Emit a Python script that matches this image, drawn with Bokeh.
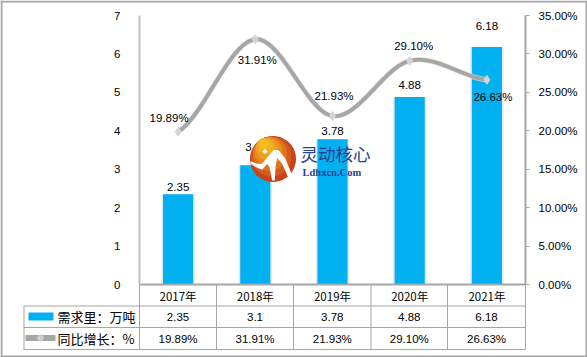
import numpy as np
from bokeh.plotting import figure
from bokeh.embed import file_html
from bokeh.resources import INLINE
from bokeh.core.properties import value
from bokeh.models import ColumnDataSource, LinearAxis, Range1d, PrintfTickFormatter, FixedTicker

years = ["2017年", "2018年", "2019年", "2020年", "2021年"]
demand = [2.35, 3.1, 3.78, 4.88, 6.18]
growth = [19.89, 31.91, 21.93, 29.10, 26.63]
demand_labels = ["2.35", "3.1", "3.78", "4.88", "6.18"]
growth_labels = ["19.89%", "31.91%", "21.93%", "29.10%", "26.63%"]
legend_names = ["需求里：万吨", "同比增长：%"]

W, H = 587, 357
L, R, T, B = 139, 525, 15, 284
GREY = "#a6a6a6"
BLUE = "#00b0f0"
FONT = "Liberation Sans"
CJK = "Noto Sans CJK SC"

p = figure(width=W, height=H, output_backend="svg", toolbar_location=None,
           x_range=years, y_range=Range1d(0, 7),
           min_border_left=L, min_border_right=W - R, min_border_top=T, min_border_bottom=H - B,
           outline_line_color=None, background_fill_color="white", border_fill_color="white")
p.grid.visible = False
p.x_range.range_padding = 0

p.yaxis.ticker = FixedTicker(ticks=list(range(8)))
p.yaxis.axis_line_color = "#bfbfbf"
p.yaxis.axis_line_width = 2
p.yaxis.major_tick_line_color = None
p.yaxis.minor_tick_line_color = None
p.yaxis.major_label_text_font = FONT
p.yaxis.major_label_text_font_size = "11.5px"
p.yaxis.major_label_text_color = "black"
p.yaxis.major_label_standoff = 13

p.extra_y_ranges = {"pct": Range1d(0, 35)}
right = LinearAxis(y_range_name="pct", ticker=FixedTicker(ticks=list(range(0, 36, 5))))
right.formatter = PrintfTickFormatter(format="%.2f%%")
right.axis_line_color = GREY
right.axis_line_width = 2
right.major_tick_line_color = GREY
right.major_tick_in = 0
right.major_tick_out = 4
right.minor_tick_line_color = None
right.major_label_text_font = FONT
right.major_label_text_font_size = "11.5px"
right.major_label_text_color = "black"
right.major_label_standoff = 9
p.add_layout(right, "right")

p.xaxis.axis_line_color = GREY
p.xaxis.axis_line_width = 2
p.xaxis.major_tick_line_color = None
p.xaxis.minor_tick_line_color = None
p.xaxis.major_tick_out = 0
p.xaxis.major_tick_in = 0
p.xaxis.major_label_text_font = CJK
p.xaxis.major_label_text_font_size = "11.5px"
p.xaxis.major_label_text_color = "black"
p.xaxis.major_label_standoff = 3

src = ColumnDataSource(dict(x=years, demand=demand, growth=growth, dl=demand_labels, gl=growth_labels))
p.vbar(x="x", top="demand", width=0.43, source=src, fill_color="#e4e7ee", line_color=None)
p.vbar(x="x", top="demand", width=0.39, source=src, fill_color=BLUE, line_color=None)


def smooth(values):
    n = len(values)
    pts = [values[0]] + list(values) + [values[-1]]
    xs, ys = [], []
    for i in range(n - 1):
        p0, p1, p2, p3 = pts[i], pts[i + 1], pts[i + 2], pts[i + 3]
        c1, c2 = p1 + (p2 - p0) / 6, p2 - (p3 - p1) / 6
        t = np.linspace(0, 1, 30)
        ys.extend((1 - t) ** 3 * p1 + 3 * (1 - t) ** 2 * t * c1 + 3 * (1 - t) * t ** 2 * c2 + t ** 3 * p2)
        xs.extend(i + 0.5 + t)
    return xs, ys


sx, sy = smooth(growth)
p.line(sx, sy, y_range_name="pct", line_color="#e3e3e3", line_width=5.5, line_alpha=0.7)
p.line(sx, sy, y_range_name="pct", line_color=GREY, line_width=4)
p.scatter(x="x", y="growth", source=src, y_range_name="pct", marker="diamond", size=9,
          fill_color="#d4d4d4", line_color="#d4d4d4")

# data labels (pixel nudges of the labels)
src.data["ddx"] = [0, -2, 0, 0, 0]
src.data["doff"] = [-7, -18, -8, -11.5, -21.5]
src.data["gdx"] = [-9, 2, 1.5, 4, 6]
src.data["gdy"] = [-14, 21, -19.5, -15, 17]
p.text(x="x", y="demand", text="dl", source=src, text_align="center", text_baseline="middle",
       x_offset="ddx", y_offset="doff", text_font=value(FONT), text_font_size="11.5px", text_color="black")
p.text(x="x", y="growth", text="gl", source=src, y_range_name="pct", text_align="center",
       text_baseline="middle", x_offset="gdx", y_offset="gdy", text_font=value(FONT),
       text_font_size="11.5px", text_color="black")

# transparent sheet over the whole picture for the table, the frame and the logo
q = figure(width=W, height=H, output_backend="svg", toolbar_location=None,
           x_range=Range1d(0, W), y_range=Range1d(H, 0), min_border=0,
           outline_line_color=None, background_fill_alpha=0, border_fill_alpha=0,
           margin=(-H, 0, 0, 0))
q.axis.visible = False
q.grid.visible = False


def rect(x0, y0, x1, y1, color):
    q.quad(left=x0, right=x1, top=y0, bottom=y1, fill_color=color, line_color=None)


def poly(xs, ys, color):
    q.patch(list(xs), list(ys), fill_color=color, line_color=None)


def label(x, y, text, font=FONT, size="11.5px", color="black", align="center", style="normal"):
    q.text([x], [y], text=[text], text_font=value(font), text_font_size=size, text_color=color,
           text_align=align, text_baseline="middle", text_font_style=style)


# outer frame
rect(0, 0, W, 2, GREY)
rect(0, H - 2, W, H, GREY)
rect(0, 0, 2, H, GREY)
rect(W - 2, 0, W, H, GREY)

# table grid
rows = [305.5, 327, 349]
cols = [139, 216, 293, 370.5, 447, 525]
for y in rows:
    rect(23, y - 0.5, 525, y + 0.5, GREY)
rect(23, rows[0], 24, rows[2], GREY)
for x in cols:
    rect(x - 0.5, B, x + 0.5, rows[2], GREY)

# table texts
for i in range(5):
    cx = (cols[i] + cols[i + 1]) / 2
    label(cx, 316, demand_labels[i])
    label(cx, 338, growth_labels[i])
label(57, 316, legend_names[0], font=CJK, size="13px", align="left")
label(57, 338, legend_names[1], font=CJK, size="13px", align="left")
rect(28, 312, 53, 320, BLUE)
rect(25, 334.5, 55, 340.5, GREY)
poly([36, 40, 44, 40], [337.5, 333.5, 337.5, 341.5], "#cfcfcf")

# watermark logo
cx0, cy0, r0 = 272.5, 158.5, 23
theta = np.linspace(0, 2 * np.pi, 60)
shades = ["#c9431a", "#d65a1c", "#e0731d", "#e88c1e", "#ee9f20", "#f1b120", "#f3bd22"]
for k, col in enumerate(shades):
    f = 1 - k * 0.13
    shift = r0 * (1 - f) * 0.85
    poly(cx0 - shift * 0.6 + r0 * f * np.cos(theta), cy0 - shift + r0 * f * np.sin(theta), col)
mx = [15, 35, 50, 62, 85, 100, 120, 140, 130, 110, 95, 90, 88, 80, 72, 65, 50, 35, 15]
my = [92, 100, 100, 85, 58, 60, 85, 135, 145, 100, 82, 110, 150, 150, 110, 100, 118, 112, 100]
poly([245 + v / 3 for v in mx], [130 + v / 3 for v in my], "white")
poly([262, 264.5, 267, 264.5], [151, 148.5, 151, 153.5], "white")
label(300, 153, "灵动核心", font=CJK, size="17.5px", color="#24408f", align="left")
label(302, 172, "Ldhxcn.Com", font="Liberation Serif", size="10.5px", color="#24408f", align="left", style="bold")

open("out.html", "w").write(file_html([p, q], INLINE))
